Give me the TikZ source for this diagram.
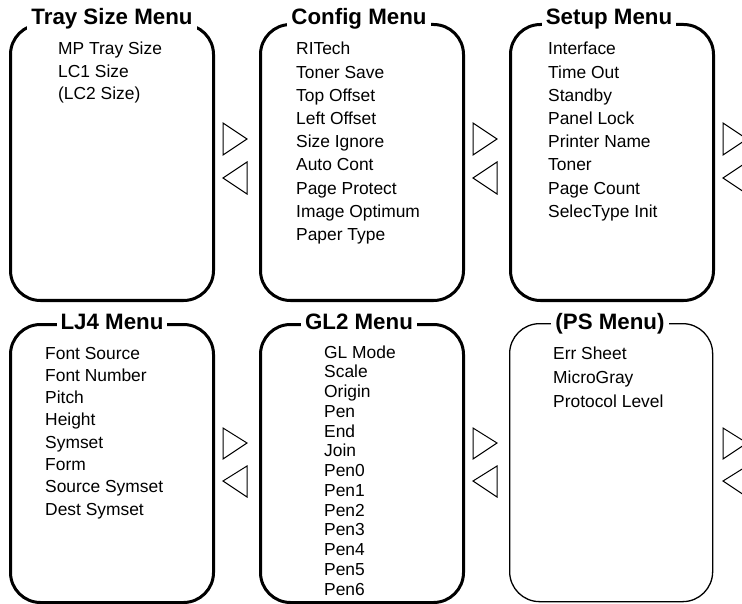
\documentclass[tikz,border=0pt]{standalone}
\usepackage{fontspec}
\setmainfont{Liberation Sans}

\tikzset{
  menubox/.style={draw, line width=3pt, rounded corners=30pt, minimum width=203pt, inner sep=0pt},
  thinbox/.style={menubox, line width=1.3pt},
  title/.style={anchor=base, fill=white, inner xsep=4pt, inner ysep=2pt, font=\fontsize{22.3}{26}\selectfont\bfseries},
  item/.style={anchor=base west, inner sep=0pt, font=\fontsize{17.4}{20}\selectfont},
  navtri/.style={draw, line width=1pt, line join=miter}
}

\begin{document}
\begin{tikzpicture}[x=1pt, y=-1pt]
    \useasboundingbox (0,0) rectangle (742,604);
    % Top row boxes
    \node[menubox, minimum height=276pt, anchor=north west] (tray) at (9,23) {};
    \node[menubox, minimum height=276pt, anchor=north west] (config) at (259,23) {};
    \node[menubox, minimum height=276pt, anchor=north west] (setup) at (509,23) {};
    % Bottom row boxes
    \node[menubox, minimum height=278pt, anchor=north west] (lj) at (9,323) {};
    \node[menubox, minimum height=278pt, anchor=north west] (gl) at (259,323) {};
    \node[thinbox, minimum height=278pt, anchor=north west] (ps) at (509,323) {};
    % Titles
    \node[title] (tray-title) at (112,25) {Tray Size Menu};
    \node[title] (config-title) at (359,25) {Config Menu};
    \node[title] (setup-title) at (609,25) {Setup Menu};
    \node[title] (lj-title) at (112,330) {LJ4 Menu};
    \node[title] (gl-title) at (359,330) {GL2 Menu};
    \node[title] (ps-title) at (610,330) {(PS Menu)};
    % Items
    \foreach \t [count=\i from 0] in {MP Tray Size, LC1 Size, {(LC2 Size)}}
        \node[item] (tray-\i) at (58,55+22.5*\i) {\t};
    \foreach \t [count=\i from 0] in {RITech, Toner Save, Top Offset, Left Offset, Size Ignore, Auto Cont, Page Protect, Image Optimum, Paper Type}
        \node[item] (config-\i) at (296,55+23.2*\i) {\t};
    \foreach \t [count=\i from 0] in {Interface, Time Out, Standby, Panel Lock, Printer Name, Toner, Page Count, SelecType Init}
        \node[item] (setup-\i) at (548,55+23.2*\i) {\t};
    \foreach \t [count=\i from 0] in {Font Source, Font Number, Pitch, Height, Symset, Form, Source Symset, Dest Symset}
        \node[item] (lj-\i) at (45,359+22.3*\i) {\t};
    \foreach \t [count=\i from 0] in {GL Mode, Scale, Origin, Pen, End, Join, Pen0, Pen1, Pen2, Pen3, Pen4, Pen5, Pen6}
        \node[item] (gl-\i) at (324,358+19.75*\i) {\t};
    \foreach \t [count=\i from 0] in {Err Sheet, MicroGray, Protocol Level}
        \node[item] (ps-\i) at (553,359+24*\i) {\t};
    % Arrows between menus
    \foreach \x in {0,250,500} {
        \draw[navtri] (223+\x,123) -- (223+\x,155) -- (247+\x,139) -- cycle;
        \draw[navtri] (247+\x,162) -- (247+\x,194) -- (223+\x,178) -- cycle;
        \draw[navtri] (223+\x,428) -- (223+\x,459) -- (247+\x,443) -- cycle;
        \draw[navtri] (247+\x,466) -- (247+\x,497) -- (223+\x,481) -- cycle;
    }
\end{tikzpicture}
\end{document}
